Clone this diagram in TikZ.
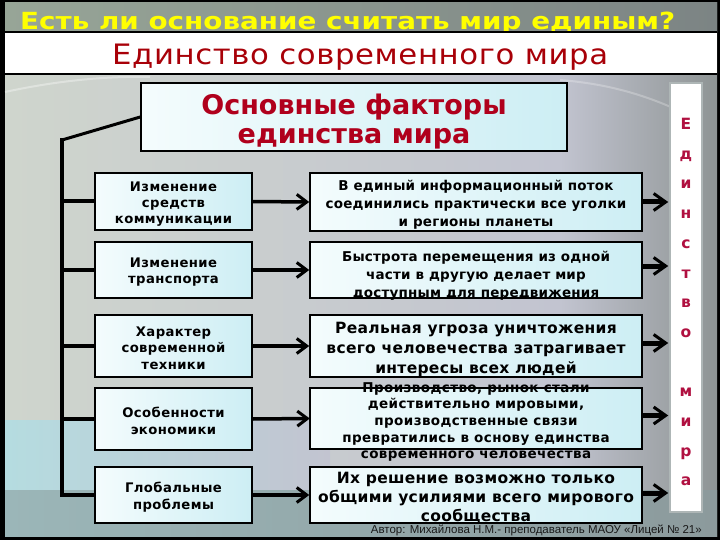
\documentclass[tikz,border=0pt]{standalone}
\usepackage{fontspec}
\setmainfont{DejaVu Sans}
\newfontfamily\authfont{Liberation Sans}
\newfontfamily\lsA[LetterSpace=3]{DejaVu Sans}
\newfontfamily\lsB[LetterSpace=1.5]{DejaVu Sans}
\newfontfamily\lsC[LetterSpace=2]{DejaVu Sans}
\usetikzlibrary{arrows.meta}
\definecolor{titlered}{HTML}{A80008}
\definecolor{mainred}{HTML}{B0001C}
\definecolor{bandred}{HTML}{B01040}
\definecolor{titleyellow}{HTML}{FFFF00}
\definecolor{boxwhite}{HTML}{F4FCFD}
\definecolor{boxcyan}{HTML}{CDEEF4}
\definecolor{bgA}{HTML}{CFD5CD}
\definecolor{bgB}{HTML}{C2C4D0}
\definecolor{bgC}{HTML}{8E9494}
\definecolor{bgCyan}{HTML}{B5DCE0}
\definecolor{bgBot}{HTML}{9BB6B8}
\definecolor{bgBotR}{HTML}{8C9A9C}
\definecolor{bgTopL}{HTML}{97A597}
\definecolor{bgTopR}{HTML}{7C8484}
\definecolor{bandgray}{HTML}{AEB6B6}
\tikzset{
  fbox/.style={draw=black, line width=1.6pt, left color=boxwhite, right color=boxcyan, inner sep=0pt},
  lbox/.style={fbox, minimum width=157pt},
  rbox/.style={fbox, minimum width=332pt},
  fillbox/.style={draw=none, left color=boxwhite, right color=boxcyan, inner sep=0pt, minimum width=332pt},
  ltext/.style={font=\lsA\bfseries\fontsize{13.2}{16.3}\selectfont, align=center, inner sep=0pt},
  rtext/.style={font=\lsB\bfseries\fontsize{13.5}{18}\selectfont, align=center, inner sep=0pt},
  midarrow/.style={line width=3.5pt, -{Straight Barb[length=10pt,width=15pt,line width=3pt]}},
  rarrow/.style={line width=5pt, -{Straight Barb[length=12pt,width=17pt,line width=3pt]}},
  trunk/.style={line width=4pt, line cap=rect},
  arcline/.style={white, opacity=0.35, line width=2pt},
  bandletter/.style={font=\bfseries\fontsize{15.5}{15.5}\selectfont, text=bandred, anchor=base, inner sep=0pt}
}
\begin{document}
\begin{tikzpicture}[x=1pt,y=-1pt]
% background
\fill[black] (0,0) rectangle (720,540);
\shade[left color=bgA, right color=bgB] (5,3) rectangle (560,536);
\shade[left color=bgB, right color=bgC] (560,3) rectangle (717,536);
\shade[left color=bgCyan, right color=bgB] (5,420) rectangle (330,490);
\shade[left color=bgBot, right color=bgBotR] (5,490) rectangle (717,536);
\shade[left color=bgTopL, right color=bgTopR] (5,3) rectangle (717,32);
\draw[arcline] (5,92) .. controls (60,80) and (110,76) .. (150,77);
\draw[arcline, opacity=0.25] (560,80) .. controls (610,84) and (650,96) .. (690,116);
\useasboundingbox (0,0) rectangle (720,540);
% yellow question (its descenders go under the white band)
\node[anchor=base west, inner sep=0pt, text=titleyellow] (q) at (20,30)
  {\resizebox{655pt}{17.5pt}{\bfseries\fontsize{24}{24}\selectfont Есть ли основание считать мир единым?}};
% title band
\fill[white] (5,32) rectangle (717,74);
\draw[line width=1.2pt] (5,32) -- (717,32) (5,74) -- (717,74);
\node[anchor=base west, inner sep=0pt, text=titlered] (ttl) at (112,65)
  {\resizebox{496pt}{20.5pt}{\lsC\fontsize{28}{28}\selectfont Единство современного мира}};
% main box
\node[fbox, minimum width=426pt, minimum height=68pt] (M) at (354,117) {};
\node[font=\bfseries\fontsize{27}{29}\selectfont, text=mainred, align=center, inner sep=0pt] (Mt) at (354,121.5)
  {Основные факторы\\единства мира};
% right band
\node[draw=bandgray, line width=1.5pt, fill=white, minimum width=32pt, minimum height=429pt, inner sep=0pt] (band) at (686,297.5) {};
\foreach \ch [count=\i] in {Е,д,и,н,с,т,в,о,{},м,и,р,а}
  \node[bandletter] (u\i) at (686,{129.5+29.7*(\i-1)}) {\ch};
% left boxes
\node[lbox, minimum height=57pt] (L1) at (173.5,201.5) {};
\node[lbox, minimum height=56pt] (L2) at (173.5,270) {};
\node[lbox, minimum height=62pt] (L3) at (173.5,346) {};
\node[lbox, minimum height=62pt] (L4) at (173.5,419) {};
\node[lbox, minimum height=56pt] (L5) at (173.5,495) {};
\node[ltext] (l1) at (173.5,204) {Изменение\\средств\\коммуникации};
\node[ltext] (l2) at (173.5,272) {Изменение\\транспорта};
\node[ltext] (l3) at (173.5,348) {Характер\\современной\\техники};
\node[ltext] (l4) at (173.5,421) {Особенности\\экономики};
\node[ltext] (l5) at (173.5,497) {Глобальные\\проблемы};
% right boxes
\node[rbox, minimum height=58pt] (R1) at (476,202) {};
\node[rbox, minimum height=56pt] (R2) at (476,270) {};
\node[rbox, minimum height=62pt] (R3) at (476,346) {};
\node[fillbox, minimum height=61pt] (R4) at (476,418.5) {};
\node[rbox, minimum height=56pt] (R5) at (476,495) {};
\node[rtext] (r1) at (476,205) {В единый информационный поток\\соединились практически все уголки\\и регионы планеты};
\node[rtext] (r2) at (476,276) {Быстрота перемещения из одной\\части в другую делает мир\\доступным для передвижения};
\node[rtext, font=\lsC\bfseries\fontsize{15.5}{20}\selectfont] (r3) at (476,349.5) {Реальная угроза уничтожения\\всего человечества затрагивает\\интересы всех людей};
\node[rtext, font=\lsA\bfseries\fontsize{13.5}{16.6}\selectfont] (r4) at (476,422) {Производство, рынок стали\\действительно мировыми,\\производственные связи\\превратились в основу единства\\современного человечества};
\draw[black, line width=1.6pt] (R4.north west) rectangle (R4.south east);
\node[rtext, font=\lsC\bfseries\fontsize{15.5}{19}\selectfont] (r5) at (476,498) {Их решение возможно только\\общими усилиями всего мирового\\сообщества};
% trunk connector
\coordinate (tk) at (62,140);
\draw[line width=3pt] (M.west) -- (tk);
\draw[trunk] (tk) -- (tk |- L5.west) -- (L5.west);
\foreach \i in {1,...,4}
  \draw[trunk] (tk |- L\i.west) -- (L\i.west);
% middle arrows
\foreach \i in {1,...,5}
  \draw[midarrow] (L\i.east) -- (R\i.west);
% right arrows
\foreach \i/\s in {1/0,2/4,3/3,4/3,5/2}
  \draw[rarrow] ([yshift=\s pt]R\i.east) -- ([yshift=\s pt,xshift=-1pt]R\i.east -| band.west);
% author
\node[font=\authfont\fontsize{11.5}{13}\selectfont, anchor=base east, inner sep=0pt, text=black!90] (author) at (702,533)
  {Автор: Михайлова Н.М.- преподаватель МАОУ «Лицей № 21»};
\end{tikzpicture}
\end{document}
